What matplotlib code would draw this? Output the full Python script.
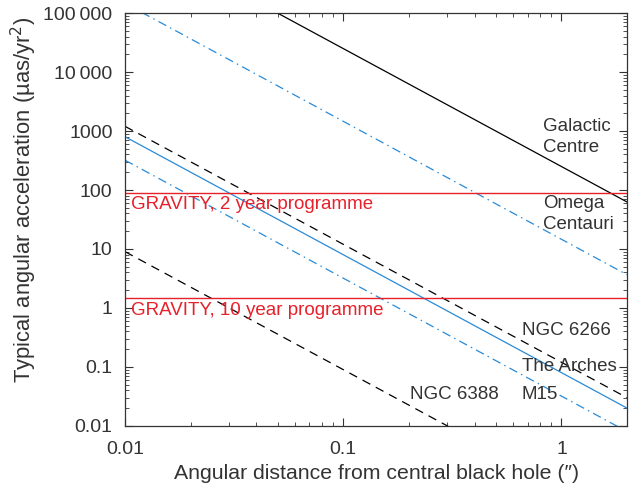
import numpy as np
import matplotlib
matplotlib.use("Agg")
import matplotlib.pyplot as plt
from matplotlib.ticker import FixedLocator, FixedFormatter, LogLocator, NullFormatter

plt.rcParams['font.family'] = ['Liberation Sans', 'DejaVu Sans']

# Data: acceleration = k / r^2 (µas/yr^2, r in arcsec)
names = ["Galactic Centre", "Omega Centauri", "NGC 6266", "The Arches", "M15", "NGC 6388"]
coeffs = [250.0, 14.6, 0.12, 0.08, 0.032, 0.0009]
colors = ["black", "#2a8ad6", "black", "#2a8ad6", "#2a8ad6", "black"]
styles = ["solid", "dashdot", "dashed", "solid", "dashdot", "dashed"]

gravity_levels = [90.0, 1.46]
gravity_labels = ["GRAVITY, 2 year programme", "GRAVITY, 10 year programme"]

ytick_vals = [0.01, 0.1, 1, 10, 100, 1000, 10000, 100000]
ytick_labels = ["0.01", "0.1", "1", "10", "100", "1000", "10\u2009000", "100\u2009000"]
xtick_vals = [0.01, 0.1, 1]
xtick_labels = ["0.01", "0.1", "1"]

fig = plt.figure(figsize=(6.38, 4.84), dpi=100)
ax = fig.add_axes([0.196, 0.12, 0.787, 0.853])
ax.set_xscale('log')
ax.set_yscale('log')
ax.set_xlim(0.01, 2)
ax.set_ylim(0.01, 100000)

r = np.logspace(-2, np.log10(2), 200)
dash_styles = {"solid": "-", "dashed": (0, (7, 5)), "dashdot": (0, (7, 3.5, 1.2, 3.5))}
for k, c, s in zip(coeffs, colors, styles):
    ax.plot(r, k / r**2, color=c, lw=0.9, linestyle=dash_styles[s])

for lvl in gravity_levels:
    ax.axhline(lvl, color="#e8202a", lw=1.0)

txtc = "#333333"
fs = 13.5
ax.text(0.0107, 56, gravity_labels[0], color="#e8202a", fontsize=fs, va='center', ha='left')
ax.text(0.0107, 0.89, gravity_labels[1], color="#e8202a", fontsize=fs, va='center', ha='left')

ax.text(0.826, 800, "Galactic\nCentre", color=txtc, fontsize=fs, va='center', ha='left', linespacing=1.3)
ax.text(0.826, 39, "Omega\nCentauri", color=txtc, fontsize=fs, va='center', ha='left', linespacing=1.3)
ax.text(0.656, 0.41, "NGC 6266", color=txtc, fontsize=fs, va='center', ha='left')
ax.text(0.656, 0.1, "The Arches", color=txtc, fontsize=fs, va='center', ha='left')
ax.text(0.656, 0.034, "M15", color=txtc, fontsize=fs, va='center', ha='left')
ax.text(0.203, 0.034, "NGC 6388", color=txtc, fontsize=fs, va='center', ha='left')

ax.yaxis.set_major_locator(FixedLocator(ytick_vals))
ax.yaxis.set_major_formatter(FixedFormatter(ytick_labels))
ax.xaxis.set_major_locator(FixedLocator(xtick_vals))
ax.xaxis.set_major_formatter(FixedFormatter(xtick_labels))
ax.xaxis.set_minor_locator(LogLocator(base=10, subs=np.arange(2, 10)))
ax.yaxis.set_minor_locator(LogLocator(base=10, subs=np.arange(2, 10)))
ax.xaxis.set_minor_formatter(NullFormatter())
ax.yaxis.set_minor_formatter(NullFormatter())

ax.tick_params(which='both', direction='in', top=True, right=True, labelsize=14, labelcolor=txtc, color="#333333")
ax.tick_params(which='major', length=6, width=0.8)
ax.tick_params(axis='y', which='major', pad=9)
ax.tick_params(axis='x', which='major', pad=11)
ax.tick_params(which='minor', length=3, width=0.6)
for sp in ax.spines.values():
    sp.set_color("#333333")
    sp.set_linewidth(0.9)

ax.set_xlabel("Angular distance from central black hole (\u2033)", fontsize=15.3, color=txtc, labelpad=4)
ax.set_ylabel("Typical angular acceleration (\u00b5as/yr$^2$)", fontsize=15.8, color=txtc, labelpad=3, y=0.547)

fig.savefig("out.png", dpi=100)
